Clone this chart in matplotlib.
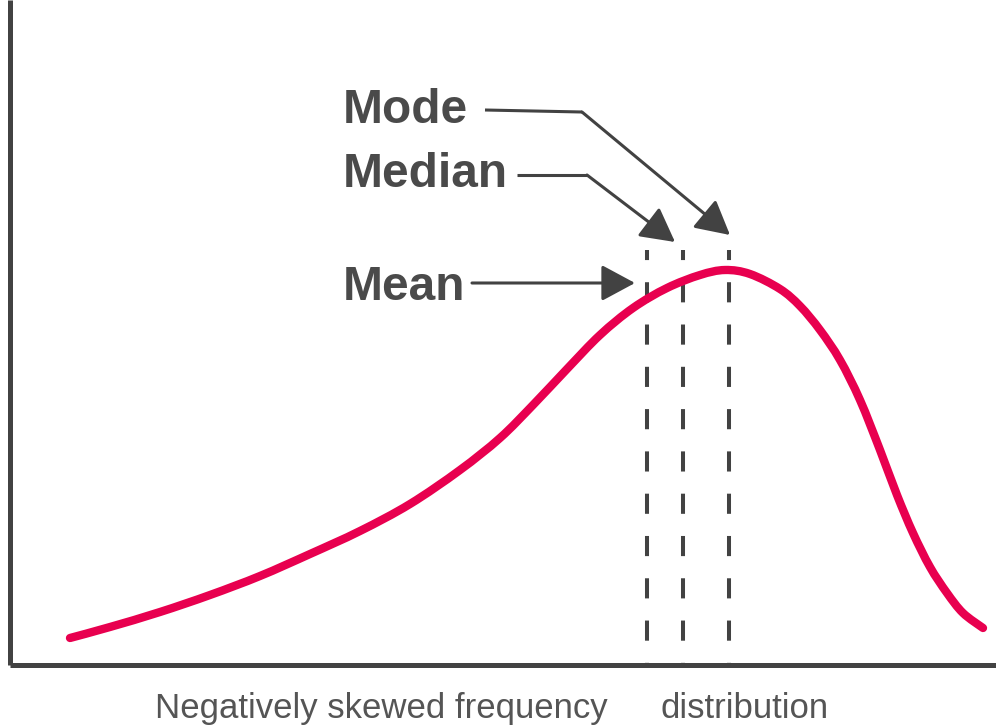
import numpy as np
import matplotlib
matplotlib.use("Agg")
import matplotlib.pyplot as plt
from matplotlib.path import Path
from matplotlib.patches import PathPatch

# curve (x, height above baseline)
curve_x = [60, 100, 150, 200, 250, 300, 350, 400, 450, 490, 523, 557, 590, 623, 657,
           690, 715, 740, 770, 790, 810, 830, 850, 870, 887, 903, 920, 937, 953, 973]
curve_y = [27, 38, 53, 70, 89, 111, 134, 161, 195, 227, 260, 296, 330, 357, 377,
           390, 395, 391, 376, 359, 335, 305, 265, 215, 170, 132, 98, 72, 52, 37]

# mean, median, mode positions
stat_names = ["Mean", "Median", "Mode"]
stat_x = [637, 673, 719]
line_top = 415

# label anchor and arrow bends: (label x, label y, start x, start y, elbow x, elbow y, tip x, tip y)
label_pos = {
    "Mode": (333, 542, 475, 555, 572, 553, 720, 430),
    "Median": (333, 478, 507, 490, 577, 490, 665, 423),
    "Mean": (333, 365, 462, 382, 462, 382, 625, 382),
}

xlabel_parts = ["Negatively skewed frequency", "distribution"]
xlabel_x = [145, 650]

RED = "#e8004f"
DARK = "#424242"
TXT = "#4a4a4a"

fig = plt.figure(figsize=(9.96, 7.27), dpi=100)
ax = fig.add_axes([10 / 996, 62 / 727, 986 / 996, 665 / 727])
ax.set_xlim(0, 986)
ax.set_ylim(0, 665)
for s in ["top", "right"]:
    ax.spines[s].set_visible(False)
for s in ["left", "bottom"]:
    ax.spines[s].set_linewidth(3.6)
    ax.spines[s].set_color(DARK)
    ax.spines[s].set_capstyle("butt")
ax.set_xticks([])
ax.set_yticks([])


def smooth_path(xs, ys):
    # catmull-rom through the read points, drawn as bezier segments
    p = np.column_stack([xs, ys]).astype(float)
    verts = [p[0]]
    codes = [Path.MOVETO]
    for i in range(len(p) - 1):
        p0 = p[i - 1] if i > 0 else p[i]
        p3 = p[i + 2] if i + 2 < len(p) else p[i + 1]
        c1 = p[i] + (p[i + 1] - p0) / 6
        c2 = p[i + 1] - (p3 - p[i]) / 6
        verts += [c1, c2, p[i + 1]]
        codes += [Path.CURVE4] * 3
    return Path(verts, codes)


ax.add_patch(PathPatch(smooth_path(curve_x, curve_y), fill=False, edgecolor=RED,
                       linewidth=6, capstyle="round", joinstyle="round", zorder=3))

ax.vlines(stat_x, line_top, 0, colors=DARK, linewidth=2.9,
          linestyles=[(2.5, (5, 5.5))], zorder=2)

for name in stat_names:
    lx, ly, sx, sy, ex, ey, tx, ty = label_pos[name]
    ax.text(lx, ly, name, fontsize=34.5, fontweight="bold", color=TXT,
            family="Liberation Sans", va="baseline", ha="left")
    if (sx, sy) != (ex, ey):
        ax.plot([sx, ex], [sy, ey], color=DARK, linewidth=2.2, solid_capstyle="butt")
    ax.annotate("", xy=(tx, ty), xytext=(ex, ey),
                arrowprops=dict(arrowstyle="-|>,head_length=1.04,head_width=0.56",
                                mutation_scale=20, color=DARK, linewidth=2.2,
                                shrinkA=0, shrinkB=0))

for part, x in zip(xlabel_parts, xlabel_x):
    ax.text(x, -53, part, fontsize=25, color="#555555", family="Liberation Sans",
            va="baseline", ha="left", clip_on=False)

fig.savefig("out.png", dpi=100)
